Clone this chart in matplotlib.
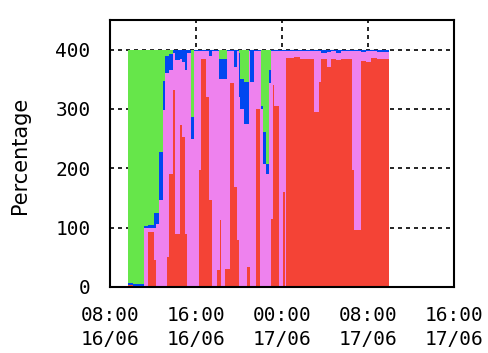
import numpy as np
import pandas as pd
import matplotlib
matplotlib.use("Agg")
import matplotlib.pyplot as plt
import matplotlib.dates as mdates

# sample start times (step data), last entry is the end of the final step
times = ["16/06 09:38", "16/06 10:09", "16/06 11:10", "16/06 11:34", "16/06 12:06",
         "16/06 12:17", "16/06 12:34", "16/06 12:55", "16/06 13:08", "16/06 13:19",
         "16/06 13:32", "16/06 13:49", "16/06 14:04", "16/06 14:28", "16/06 14:41",
         "16/06 14:56", "16/06 15:09", "16/06 15:33", "16/06 15:50", "16/06 16:14",
         "16/06 16:28", "16/06 16:57", "16/06 17:10", "16/06 17:29", "16/06 17:57",
         "16/06 18:06", "16/06 18:12", "16/06 18:21", "16/06 18:44", "16/06 18:53",
         "16/06 19:08", "16/06 19:30", "16/06 19:49", "16/06 19:58", "16/06 20:08",
         "16/06 20:26", "16/06 20:45", "16/06 20:54", "16/06 21:04", "16/06 21:22",
         "16/06 21:37", "16/06 21:56", "16/06 22:00", "16/06 22:15", "16/06 22:28",
         "16/06 22:46", "16/06 22:59", "16/06 23:07", "16/06 23:18", "16/06 23:42",
         "17/06 00:03", "17/06 00:14", "17/06 00:20", "17/06 01:06", "17/06 01:43",
         "17/06 02:59", "17/06 03:26", "17/06 03:35", "17/06 04:13", "17/06 04:31",
         "17/06 04:59", "17/06 05:27", "17/06 06:33", "17/06 06:42", "17/06 07:19",
         "17/06 07:47", "17/06 08:15", "17/06 08:53"]
t_end = "17/06 09:58"

red = [4, 1, 0, 93, 45, 0, 0, 0, 0, 51,
       191, 332, 90, 273, 253, 90, 0, 0, 0, 197,
       385, 320, 146, 0, 29, 29, 113, 0, 31, 31,
       343, 169, 79, 0, 0, 0, 34, 34, 0, 0,
       300, 0, 0, 0, 0, 0, 115, 340, 305, 0,
       160, 0, 386, 388, 384, 295, 346, 384, 371, 384,
       382, 384, 197, 96, 381, 380, 386, 384]
pink = [0, 0, 99, 7, 55, 107, 146, 298, 360, 309,
        174, 63, 292, 112, 127, 275, 395, 250, 398, 201,
        13, 78, 244, 398, 369, 322, 238, 351, 320, 367,
        55, 202, 319, 320, 300, 275, 241, 364, 345, 398,
        98, 398, 300, 208, 191, 343, 283, 58, 93, 398,
        238, 398, 12, 10, 14, 103, 52, 11, 25, 14,
        13, 14, 201, 302, 15, 18, 12, 12]
blue = [2, 4, 3, 4, 25, 18, 82, 50, 30, 30,
        27, 5, 18, 15, 20, 35, 5, 37, 2, 2,
        2, 2, 10, 2, 2, 34, 34, 34, 34, 2,
        2, 29, 2, 75, 50, 70, 70, 2, 55, 2,
        2, 2, 5, 53, 17, 22, 2, 2, 2, 2,
        2, 2, 2, 2, 2, 2, 2, 5, 4, 2,
        5, 2, 2, 2, 4, 2, 2, 4]
green = [394, 395, 298, 296, 275, 275, 172, 52, 10, 10,
         8, 0, 0, 0, 0, 0, 0, 113, 0, 0,
         0, 0, 0, 0, 0, 15, 15, 15, 15, 0,
         0, 0, 0, 5, 50, 55, 55, 0, 0, 0,
         0, 0, 95, 139, 192, 35, 0, 0, 0, 0,
         0, 0, 0, 0, 0, 0, 0, 0, 0, 0,
         0, 0, 0, 0, 0, 0, 0, 0]

colors = {"red": "#f44336", "pink": "#ee82ee", "blue": "#0047f0", "green": "#66e64a"}

fmt = "%d/%m %H:%M"
t = pd.to_datetime(times + [t_end], format=fmt)
x = mdates.date2num(t.to_pydatetime())

def ext(v):
    v = np.asarray(v, dtype=float)
    return np.append(v, v[-1])

r = ext(red)
p = r + ext(pink)
b = p + ext(blue)
g = b + ext(green)

fig = plt.figure(figsize=(4.88, 3.53), dpi=100)
ax = fig.add_axes([110 / 488, 1 - 287 / 353, 344 / 488, 267 / 353])

ax.fill_between(x, b, g, step="post", color=colors["green"], lw=0, zorder=2)
ax.fill_between(x, p, b, step="post", color=colors["blue"], lw=0, zorder=2)
ax.fill_between(x, r, p, step="post", color=colors["pink"], lw=0, zorder=2)
ax.fill_between(x, 0, r, step="post", color=colors["red"], lw=0, zorder=2)

x0 = mdates.date2num(pd.to_datetime("16/06 08:00", format=fmt).to_pydatetime())
x1 = mdates.date2num(pd.to_datetime("17/06 16:00", format=fmt).to_pydatetime())
ax.set_xlim(x0, x1)
ax.set_ylim(0, 450)

ax.set_yticks([0, 100, 200, 300, 400])
ax.xaxis.set_major_locator(mdates.HourLocator(byhour=[0, 8, 16]))
ax.xaxis.set_major_formatter(mdates.DateFormatter("%H:%M\n%d/%m"))

mono = "DejaVu Sans Mono"
for lab in ax.get_xticklabels() + ax.get_yticklabels():
    lab.set_fontfamily(mono)
    lab.set_fontsize(14)
for lab in ax.get_xticklabels():
    lab.set_linespacing(1.3)

ax.tick_params(axis="both", direction="in", length=0, colors="black")
ax.tick_params(axis="x", pad=14)
ax.tick_params(axis="y", pad=14)

ax.grid(True, color="black", linestyle=(0, (2.4, 2.4)), linewidth=1.2, zorder=1)
ax.set_axisbelow(True)
for s in ax.spines.values():
    s.set_linewidth(1.5)
    s.set_zorder(3)

fig.text(20 / 488, 1 - 155 / 353, "Percentage", rotation=90, ha="center", va="center",
         fontsize=15, family="DejaVu Sans")

fig.savefig("out.png", dpi=100)
